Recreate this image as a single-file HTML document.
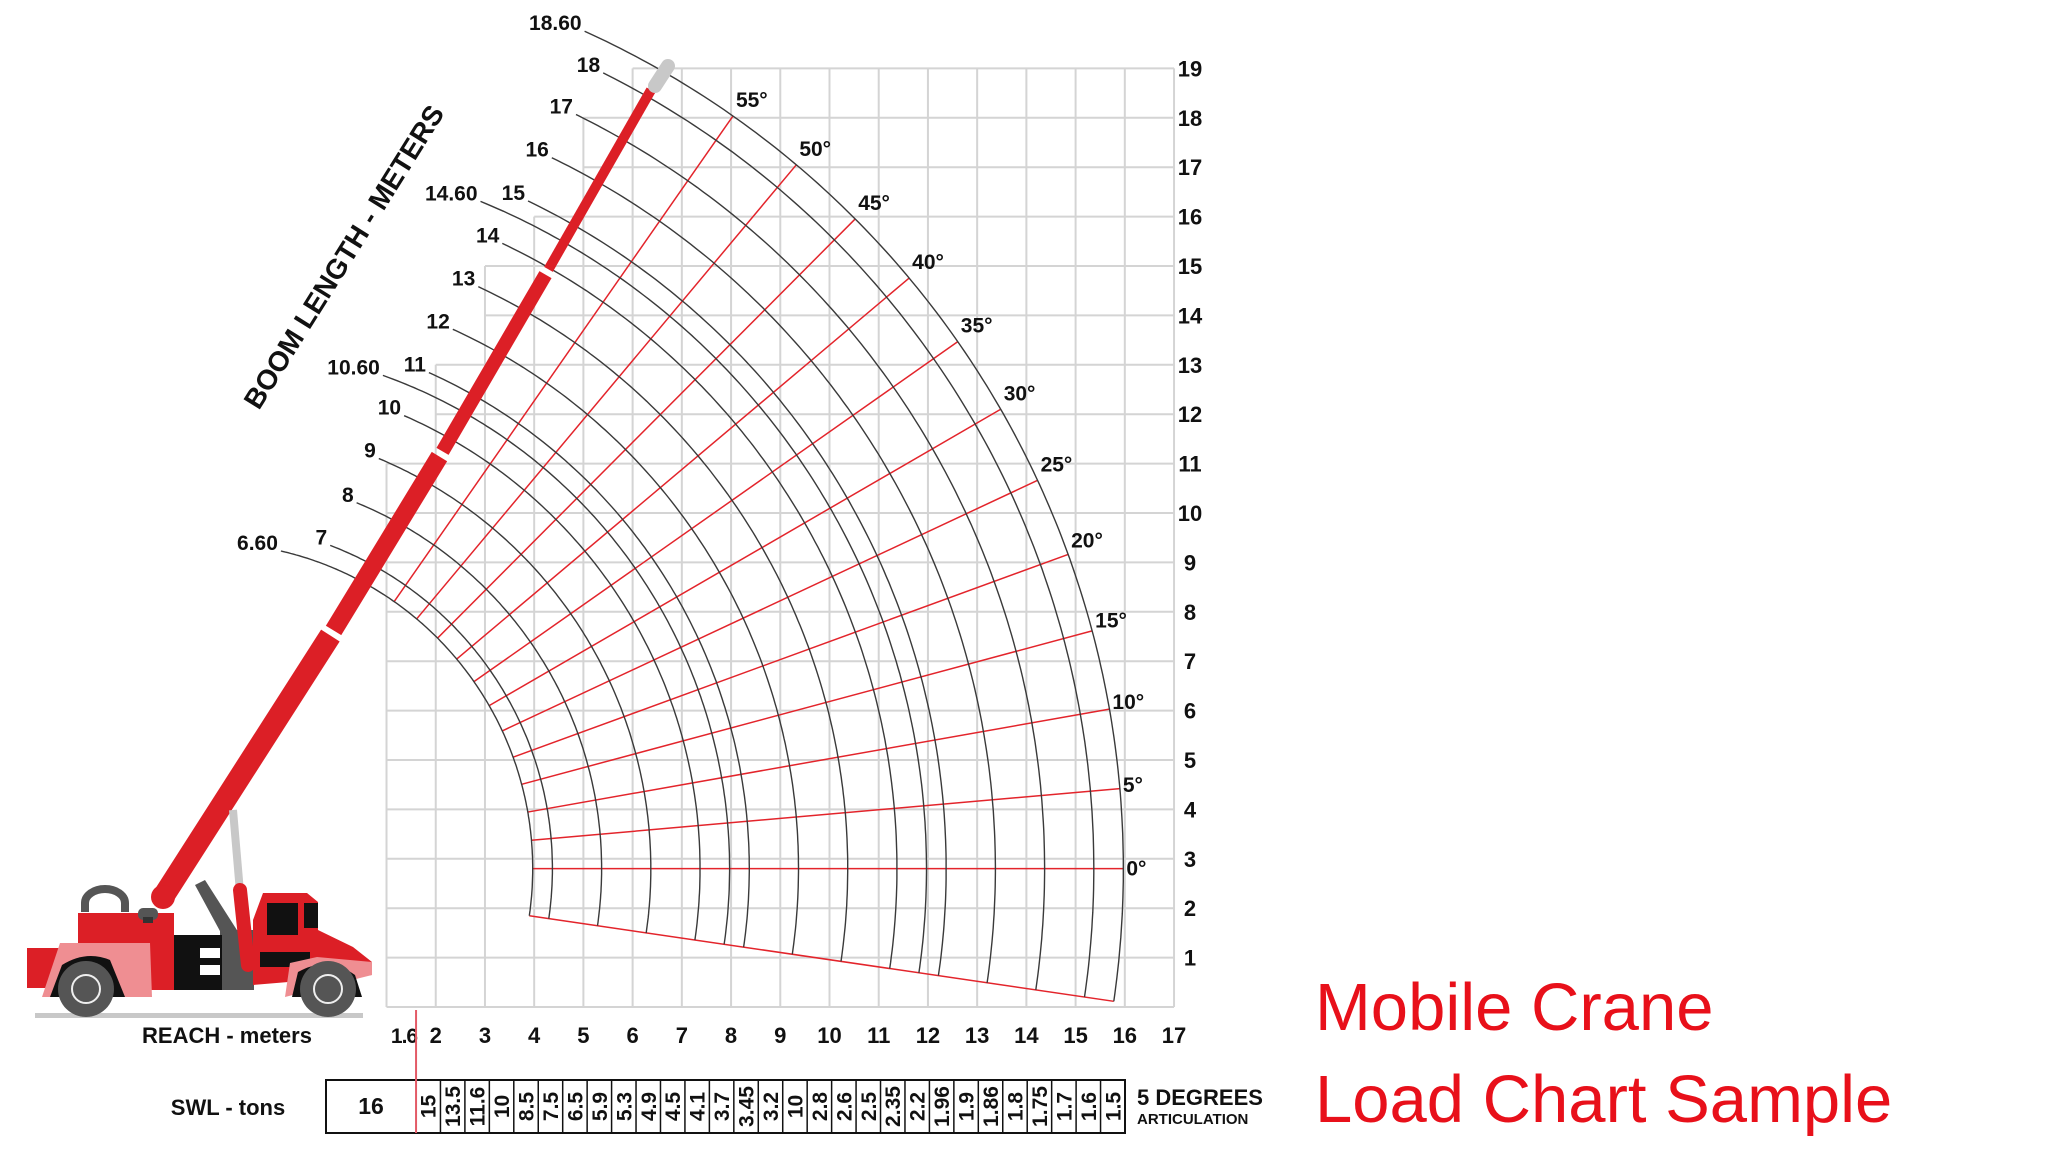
<!DOCTYPE html>
<html><head><meta charset="utf-8">
<style>
html,body{margin:0;padding:0;background:#fff;}
body{width:2048px;height:1152px;overflow:hidden;position:relative;font-family:"Liberation Sans",sans-serif;}
svg{position:absolute;left:0;top:0;}
.title{position:absolute;left:1315px;color:#e8101a;font-size:67px;font-family:"Liberation Sans",sans-serif;white-space:nowrap;line-height:1;}
</style></head>
<body>
<svg id="chart" width="2048" height="1152" viewBox="0 0 2048 1152" xmlns="http://www.w3.org/2000/svg"></svg>
<div class="title" style="top:974px;">Mobile Crane</div>
<div class="title" style="top:1066px;">Load Chart Sample</div>
<script>
// ---- data ----
const xTicks = [2,3,4,5,6,7,8,9,10,11,12,13,14,15,16,17];
const yTicks = [1,2,3,4,5,6,7,8,9,10,11,12,13,14,15,16,17,18,19];
const colTops = [11,13,15,16,18,19,19,19,19,19,19,19,19,19,19,19];
const boomLengths = [6.6,7,8,9,10,10.6,11,12,13,14,14.6,15,16,17,18,18.6];
const boomLabels = ["6.60","7","8","9","10","10.60","11","12","13","14","14.60","15","16","17","18","18.60"];
const arcEndAngles = [77,69.2,67.8,67.3,66.5,70.4,65.9,65.5,65,64.7,67.7,64.3,64.1,63.9,63.5,65.7];
const boomAngles = [0,5,10,15,20,25,30,35,40,45,50,55];
const lowAngle = -8.3;
const pivotX = -2.63, pivotY = 2.8;
const swlValues = ["15","13.5","11.6","10","8.5","7.5","6.5","5.9","5.3","4.9","4.5","4.1","3.7","3.45","3.2","10","2.8","2.6","2.5","2.35","2.2","1.96","1.9","1.86","1.8","1.75","1.7","1.6","1.5"];
const swlFirst = "16";

// ---- axes ----
const X0 = 337.3, Y0 = 1007, SX = 49.22, SY = 49.4;
function xs(v){return X0 + v*SX;}
function ys(v){return Y0 - v*SY;}
const NS = "http://www.w3.org/2000/svg";
const svg = document.getElementById('chart');
function mk(tag, attrs, parent){
  const e = document.createElementNS(NS, tag);
  for (const k in attrs) e.setAttribute(k, attrs[k]);
  (parent||svg).appendChild(e);
  return e;
}
function polar(r, a){
  const t = a*Math.PI/180;
  return [xs(pivotX + r*Math.cos(t)), ys(pivotY + r*Math.sin(t))];
}

// grid
const grid = mk('g',{stroke:'#d4d4d4','stroke-width':2,fill:'none'});


for (let k=1;k<=17;k++){
  const left = k-2>=0 ? colTops[k-2] : 0;
  const right = k-1<colTops.length ? colTops[k-1] : 0;
  const top = Math.max(left,right);
  const l = mk('line',{x1:xs(k),x2:xs(k),y1:ys(0),y2:ys(top)},grid);
  
  
}
for (let j=0;j<=19;j++){
  let start = 1;
  for (let c=0;c<colTops.length;c++){ if (colTops[c]>=j){ start = c+1; break; } }
  const l = mk('line',{x1:xs(start),x2:xs(17),y1:ys(j),y2:ys(j)},grid);
  
  
}

// red lines (angles)
const rMin = boomLengths[0], rMax = boomLengths[boomLengths.length-1];
const redG = mk('g',{stroke:'#e3242b','stroke-width':1.5,fill:'none'});


boomAngles.concat([lowAngle]).forEach(a=>{
  const p1 = polar(rMin,a), p2 = polar(rMax,a);
  const l = mk('line',{x1:p1[0],y1:p1[1],x2:p2[0],y2:p2[1]},redG);
  
  
});

// arcs
const arcG = mk('g',{stroke:'#3a3a3a','stroke-width':1.4,fill:'none'});


boomLengths.forEach((r,i)=>{
  let d='';
  const a1 = arcEndAngles[i];
  for (let a=lowAngle; a<=a1+0.001; a+=0.5){
    const p = polar(r,Math.min(a,a1));
    d += (d?'L':'M')+p[0].toFixed(1)+','+p[1].toFixed(1);
  }
  const pe = polar(r,a1);
  d += 'L'+pe[0].toFixed(1)+','+pe[1].toFixed(1);
  const path = mk('path',{d:d},arcG);
  
  
  const t = mk('text',{x:pe[0]-3,y:pe[1]-1,'text-anchor':'end','font-size':21,'font-weight':'bold',fill:'#111',stroke:'none','font-family':'Liberation Sans, sans-serif'});
  t.textContent = boomLabels[i];
  
  
});

// angle labels
boomAngles.forEach(a=>{
  const p = polar(rMax,a);
  const off = Math.min(16, 40*Math.sin(a*Math.PI/180));
  const t = mk('text',{x:p[0]+3,y:p[1]-off+7,'font-size':21,'font-weight':'bold',fill:'#111','font-family':'Liberation Sans, sans-serif'});
  t.textContent = a+'°';
  
  
});

// axis tick labels
xTicks.forEach(v=>{
  const t = mk('text',{x:xs(v),y:1043,'text-anchor':'middle','font-size':22,'font-weight':'bold',fill:'#111'});
  t.textContent = v;
  
  
});
{
  const t = mk('text',{x:404,y:1043,'text-anchor':'middle','font-size':21,'font-weight':'bold',fill:'#111','letter-spacing':'-1'});
  t.textContent = '1.6';
  
  
}
yTicks.forEach(v=>{
  const t = mk('text',{x:1190,y:ys(v)+8,'text-anchor':'middle','font-size':22,'font-weight':'bold',fill:'#111'});
  t.textContent = v;
  
  
});
{
  const t = mk('text',{x:227,y:1043,'text-anchor':'middle','font-size':22,'font-weight':'bold',fill:'#111'});
  t.textContent = 'REACH - meters';
  
  
  const t2 = mk('text',{x:0,y:0,'text-anchor':'middle','font-size':28,'font-weight':'bold',fill:'#111',transform:'translate(352,262) rotate(-58)'});
  t2.textContent = 'BOOM LENGTH - METERS';
  
  
  const t3 = mk('text',{x:228,y:1115,'text-anchor':'middle','font-size':22,'font-weight':'bold',fill:'#111'});
  t3.textContent = 'SWL - tons';
  
  
}

// SWL table
const TL=326, TR=1125, TT=1080, TB=1133, FIRSTW=90;
const tbl = mk('g',{});


mk('rect',{x:TL,y:TT,width:TR-TL,height:TB-TT,fill:'#fff',stroke:'#111','stroke-width':2},tbl);
{
  const t = mk('text',{x:TL+FIRSTW/2,y:TT+34,'text-anchor':'middle','font-size':23,'font-weight':'bold',fill:'#111'},tbl);
  t.textContent = swlFirst;
  
  
}
const cw = (TR-TL-FIRSTW)/swlValues.length;
swlValues.forEach((v,i)=>{
  const x = TL+FIRSTW+i*cw;
  if (i>0){
    const l = mk('line',{x1:x,x2:x,y1:TT,y2:TB,stroke:'#111','stroke-width':1.5},tbl);
    
    
  }
  const t = mk('text',{x:0,y:0,'text-anchor':'middle','font-size':21,'font-weight':'bold',fill:'#111',transform:'translate('+(x+cw/2+7.5)+','+((TT+TB)/2)+') rotate(-90)'},tbl);
  t.textContent = v;
  
  
});
{
  const t = mk('text',{x:1137,y:1105,'font-size':22,'font-weight':'bold',fill:'#111'});
  t.textContent = '5 DEGREES';
  
  
  const t2 = mk('text',{x:1137,y:1124,'font-size':15,'font-weight':'bold',fill:'#111'});
  t2.textContent = 'ARTICULATION';
  
  
}
{
  const l = mk('line',{x1:xs(1.6),x2:xs(1.6),y1:ys(0)+3,y2:TB,stroke:'#e35a66','stroke-width':2});
  
  
}

// ---- crane drawing ----
const cr = mk('g',{});


function P(pts,fill){return mk('polygon',{points:pts,fill:fill},cr);}
mk('rect',{x:35,y:1013,width:328,height:5,fill:'#c8c8c8'},cr);
const boomPts = [[163,897],[332,633],[441,454],[547,272],[651,90]];
const boomW = [22,18,14,10];
for (let i=0;i<4;i++){
  const a=boomPts[i], b=boomPts[i+1];
  const dx=b[0]-a[0], dy=b[1]-a[1], L=Math.hypot(dx,dy);
  const ux=dx/L, uy=dy/L;
  const s=i===0?0:3, e=i===3?0:3;
  const seg = mk('line',{x1:a[0]+ux*s,y1:a[1]+uy*s,x2:b[0]-ux*e,y2:b[1]-uy*e,stroke:'#dc1f26','stroke-width':boomW[i]},cr);
  
  
}
mk('line',{x1:655,y1:86,x2:668,y2:66,stroke:'#c8c8c8','stroke-width':14,'stroke-linecap':'round'},cr);
P('195,885 205,880 256,960 240,968','#555');
mk('rect',{x:220,y:930,width:34,height:60,fill:'#555'},cr);
mk('rect',{x:27,y:948,width:32,height:40,fill:'#dc1f26'},cr);
mk('rect',{x:78,y:913,width:96,height:77,fill:'#dc1f26'},cr);
P('42,997 60,943 150,943 152,997','#ef8e92');
mk('path',{d:'M50,997 L62,965 Q86,950 110,960 L125,997 Z',fill:'#111'},cr);
mk('path',{d:'M85,912 L85,903 A20,14 0 0 1 125,903 L125,912',fill:'none',stroke:'#555','stroke-width':8},cr);
mk('rect',{x:138,y:908,width:20,height:12,rx:5,fill:'#555'},cr);
mk('rect',{x:143,y:917,width:10,height:6,fill:'#333'},cr);
mk('rect',{x:174,y:935,width:48,height:55,fill:'#111'},cr);
mk('rect',{x:200,y:948,width:20,height:10,fill:'#fff'},cr);
mk('rect',{x:200,y:965,width:20,height:10,fill:'#fff'},cr);
mk('line',{x1:233,y1:810,x2:240,y2:892,stroke:'#c8c8c8','stroke-width':8},cr);
mk('line',{x1:240,y1:890,x2:248,y2:965,stroke:'#dc1f26','stroke-width':14,'stroke-linecap':'round'},cr);
P('263,893 307,893 318,902 318,930 353,947 372,962 372,975 253,985 253,920','#dc1f26');
mk('rect',{x:267,y:903,width:31,height:32,fill:'#111'},cr);
mk('rect',{x:304,y:903,width:14,height:25,fill:'#111'},cr);
mk('rect',{x:260,y:952,width:50,height:15,fill:'#111'},cr);
P('285,997 290,963 317,957 372,962 372,975 360,978','#ef8e92');
mk('path',{d:'M292,997 L298,972 Q328,955 355,975 L362,997 Z',fill:'#111'},cr);
[[86,989],[328,989]].forEach((c,i)=>{
  const w = mk('circle',{cx:c[0],cy:c[1],r:28,fill:'#555'},cr);
  
  
  mk('circle',{cx:c[0],cy:c[1],r:14,fill:'#555',stroke:'#eee','stroke-width':2},cr);
});
mk('circle',{cx:163,cy:897,r:12,fill:'#dc1f26'},cr);
</script>
</body></html>
